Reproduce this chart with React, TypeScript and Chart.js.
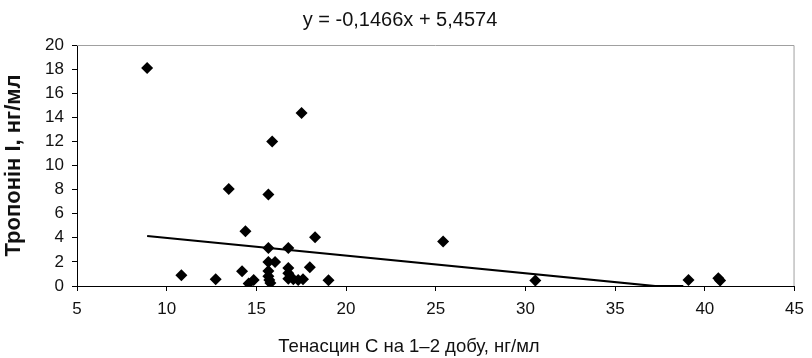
import React, { useEffect, useRef } from "react";
import { Chart, registerables } from "chart.js";

Chart.register(...registerables);

const pointX = [
  8.91, 10.82, 12.73, 13.46, 14.2, 14.39, 14.57, 14.85, 15.67, 15.88,
  15.67, 15.67, 16.04, 15.67, 15.67, 15.72, 15.78, 16.78, 16.78, 16.78,
  16.78, 17.06, 17.33, 17.52, 17.6, 17.98, 18.27, 19.02, 25.41, 30.55,
  39.09, 40.75, 40.85,
];
const pointY = [
  18.1, 0.9, 0.55, 8.05, 1.22, 4.55, 0.2, 0.5, 7.6, 12.0,
  3.15, 2.0, 2.0, 1.25, 0.8, 0.5, 0.25, 3.15, 1.5, 1.05,
  0.6, 0.55, 0.5, 14.35, 0.55, 1.55, 4.05, 0.48, 3.7, 0.45,
  0.5, 0.65, 0.45,
];

const trendX = [8.91, 37.23, 38.8];
const trendY = [4.15, 0, 0];

const titleText = "y = -0,1466x + 5,4574";
const xTitle = "Тенасцин С на 1–2 добу, нг/мл";
const yTitle = "Тропонін І, нг/мл";
const xTicks = [5, 10, 15, 20, 25, 30, 35, 40, 45];
const yTicks = [0, 2, 4, 6, 8, 10, 12, 14, 16, 18, 20];

const FONT = "'Liberation Sans', Arial, sans-serif";

const framePlugin = {
  id: "frame",
  beforeDatasetsDraw(chart: any) {
    const { ctx, chartArea } = chart;
    ctx.save();
    ctx.strokeStyle = "#a0a0a0";
    ctx.lineWidth = 1;
    ctx.beginPath();
    ctx.moveTo(chartArea.left, chartArea.top + 0.5);
    ctx.lineTo(chartArea.right - 0.5, chartArea.top + 0.5);
    ctx.lineTo(chartArea.right - 0.5, chartArea.bottom);
    ctx.stroke();
    ctx.restore();
  },
  afterDraw(chart: any) {
    const { ctx, width } = chart;
    ctx.save();
    ctx.fillStyle = "#111";
    ctx.font = `18.5px ${FONT}`;
    ctx.textAlign = "center";
    ctx.textBaseline = "middle";
    ctx.fillText(xTitle, width / 2 + 3, 347);
    ctx.restore();
  },
};

export default function App() {
  const ref = useRef<HTMLCanvasElement>(null);
  useEffect(() => {
    if (!ref.current) return;
    const chart = new Chart(ref.current, {
      type: "scatter",
      data: {
        datasets: [
          {
            label: "data",
            data: pointX.map((x, i) => ({ x, y: pointY[i] })),
            pointStyle: "rectRot",
            pointRadius: 6,
            pointBackgroundColor: "#000",
            pointBorderColor: "#000",
            pointBorderWidth: 0,
            showLine: false,
          },
          {
            label: "trend",
            type: "line",
            data: trendX.map((x, i) => ({ x, y: trendY[i] })),
            borderColor: "#000",
            borderWidth: 2.2,
            pointRadius: 0,
            fill: false,
            tension: 0,
          } as any,
        ],
      },
      options: {
        animation: false,
        responsive: false,
        maintainAspectRatio: false,
        layout: { padding: { left: 0, right: 12, top: 0, bottom: 0 } },
        plugins: {
          legend: { display: false },
          tooltip: { enabled: false },
          title: {
            display: true,
            text: titleText,
            color: "#111",
            font: { family: FONT, size: 20, weight: "normal" },
            padding: { top: 8, bottom: 13 },
          },
        },
        scales: {
          x: {
            type: "linear",
            min: 5,
            max: 45,
            afterBuildTicks: (s: any) => {
              s.ticks = xTicks.map((v) => ({ value: v }));
            },
            afterFit: (s: any) => {
              s.height = 72;
            },
            border: { color: "#000", width: 1 },
            grid: {
              drawOnChartArea: false,
              drawTicks: true,
              tickLength: 5,
              color: "#000",
            },
            ticks: {
              color: "#111",
              font: { family: FONT, size: 17 },
              padding: 8,
              maxRotation: 0,
            },
            title: { display: false },
          },
          y: {
            type: "linear",
            min: 0,
            max: 20,
            afterBuildTicks: (s: any) => {
              s.ticks = yTicks.map((v) => ({ value: v }));
            },
            afterFit: (s: any) => {
              s.width = 77;
            },
            border: { color: "#000", width: 1 },
            grid: {
              drawOnChartArea: false,
              drawTicks: true,
              tickLength: 5,
              color: "#000",
            },
            ticks: {
              color: "#111",
              font: { family: FONT, size: 17 },
              padding: 8,
            },
            title: {
              display: true,
              text: yTitle,
              color: "#111",
              font: { family: FONT, size: 22, weight: "bold" },
              padding: { top: 1, bottom: 0 },
            },
          },
        },
      },
      plugins: [framePlugin],
    });
    return () => chart.destroy();
  }, []);
  return (
    <div style={{ position: "fixed", left: 0, top: 0, width: 812, height: 358, background: "#fff" }}>
      <canvas ref={ref} width={812} height={358} style={{ display: "block" }} />
    </div>
  );
}
